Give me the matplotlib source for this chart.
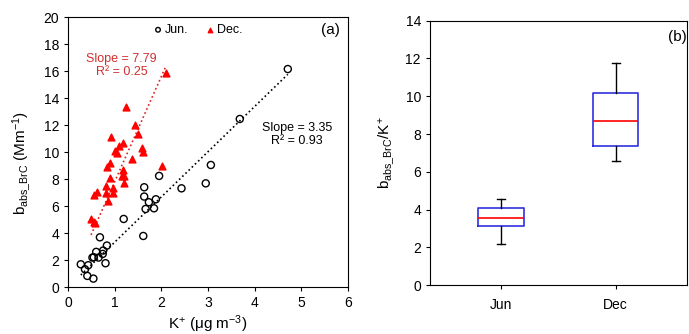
import numpy as np
import matplotlib
matplotlib.use("Agg")
import matplotlib.pyplot as plt

plt.rcParams['font.family'] = ['Liberation Sans', 'DejaVu Sans']
plt.rcParams['mathtext.fontset'] = 'custom'
plt.rcParams['mathtext.rm'] = 'Liberation Sans'
plt.rcParams['mathtext.it'] = 'Liberation Sans'

# (a) scatter: K+ vs b_abs_BrC
jun_k = [4.71, 3.68, 3.06, 2.95, 2.43, 1.95, 1.63, 1.63, 1.73, 1.88, 1.66, 1.84, 1.19, 1.61,
         0.68, 0.83, 0.60, 0.75, 0.74, 0.55, 0.52, 0.65, 0.80, 0.27, 0.43, 0.36, 0.41, 0.54]
jun_b = [16.17, 12.47, 9.06, 7.70, 7.33, 8.25, 7.41, 6.72, 6.30, 6.52, 5.80, 5.85, 5.06, 3.80,
         3.70, 3.09, 2.62, 2.72, 2.47, 2.22, 2.20, 2.20, 1.78, 1.70, 1.63, 1.33, 0.84, 0.64]
dec_k = [2.10, 1.23, 1.43, 1.49, 0.91, 1.17, 1.10, 1.00, 1.05, 1.59, 1.60, 1.37, 0.90, 0.84,
         2.01, 1.18, 1.15, 1.20, 0.89, 0.95, 1.20, 0.81, 0.82, 0.95, 0.85, 0.61, 0.56, 0.49,
         0.55, 0.57]
dec_b = [15.9, 13.36, 12.02, 11.38, 11.16, 10.72, 10.47, 10.12, 9.93, 10.35, 10.05, 9.53, 9.19,
         8.94, 9.01, 8.69, 8.25, 8.27, 8.10, 7.33, 7.73, 7.53, 6.99, 7.01, 6.40, 7.04, 6.84,
         5.06, 4.86, 4.74]
jun_fit = (3.35, 0.0)   # slope, intercept
dec_fit = (7.79, 0.06)

# (b) box stats: whislo, q1, med, q3, whishi
months = ['Jun', 'Dec']
whislo = [2.2, 6.55]
q1 = [3.15, 7.35]
med = [3.55, 8.7]
q3 = [4.1, 10.15]
whishi = [4.55, 11.75]

fig = plt.figure(figsize=(6.89, 3.34), dpi=100)
ax1 = fig.add_axes([0.099, 0.140, 0.406, 0.808])
ax2 = fig.add_axes([0.624, 0.146, 0.373, 0.792])

fs = 10
fs_txt = 9

ax1.scatter(jun_k, jun_b, s=26, facecolors='none', edgecolors='black', linewidths=1.0,
            label='Jun.', zorder=3)
ax1.scatter(dec_k, dec_b, s=24, marker='^', color='red', label='Dec.', zorder=3)

xj = np.array([min(jun_k), max(jun_k)])
ax1.plot(xj, jun_fit[0] * xj + jun_fit[1], ls=':', color='black', lw=1.2)
xd = np.array([min(dec_k), max(dec_k)])
ax1.plot(xd, dec_fit[0] * xd + dec_fit[1], ls=':', color='#e02020', lw=1.2)

ax1.set_xlim(0, 6)
ax1.set_ylim(0, 20)
ax1.set_xticks(range(0, 7))
ax1.set_yticks(range(0, 21, 2))
ax1.tick_params(labelsize=fs, direction='out', length=3)
ax1.set_xlabel(r'K$^{+}$ ($\mathregular{\mu}$g m$^{-3}$)', fontsize=11, labelpad=2)
ax1.set_ylabel(r'b$_{\mathregular{abs\_BrC}}$ (Mm$^{-1}$)', fontsize=11)
ax1.yaxis.set_label_coords(-0.125, 0.46)
ax1.legend(loc='center', bbox_to_anchor=(0.46, 0.953), ncol=2, frameon=False,
           fontsize=fs_txt, handletextpad=0.05, columnspacing=1.2, handlelength=1.0,
           borderaxespad=0.0, borderpad=0.0, markerscale=0.65)
ax1.text(0.97, 0.953, '(a)', transform=ax1.transAxes, ha='right', va='center', fontsize=11)
ax1.text(1.14, 16.4, 'Slope = 7.79\nR² = 0.25', color='#d03030', ha='center', va='center',
         fontsize=fs_txt, linespacing=1.1)
ax1.text(4.90, 11.32, 'Slope = 3.35\nR² = 0.93', color='black', ha='center', va='center',
         fontsize=fs_txt, linespacing=1.1)

stats = []
for i in range(len(months)):
    stats.append({'label': months[i], 'whislo': whislo[i], 'q1': q1[i], 'med': med[i],
                  'q3': q3[i], 'whishi': whishi[i], 'fliers': []})
ax2.bxp(stats, positions=[1, 2], widths=0.4, showfliers=False,
        boxprops=dict(color='#3030e0', lw=1.2),
        medianprops=dict(color='red', lw=1.2),
        whiskerprops=dict(color='black', lw=1.0),
        capprops=dict(color='black', lw=1.0), capwidths=0.07)
ax2.set_xlim(0.375, 2.625)
ax2.set_ylim(0, 14)
ax2.set_yticks(range(0, 15, 2))
ax2.tick_params(labelsize=fs, direction='out', length=3)
ax2.tick_params(axis='x', pad=6)
ax2.set_ylabel(r'b$_{\mathregular{abs\_BrC}}$/K$^{+}$', fontsize=11, labelpad=6)
ax2.text(1.0, 0.94, '(b)', transform=ax2.transAxes, ha='right', va='center', fontsize=11)

fig.savefig('out.png', dpi=100)
